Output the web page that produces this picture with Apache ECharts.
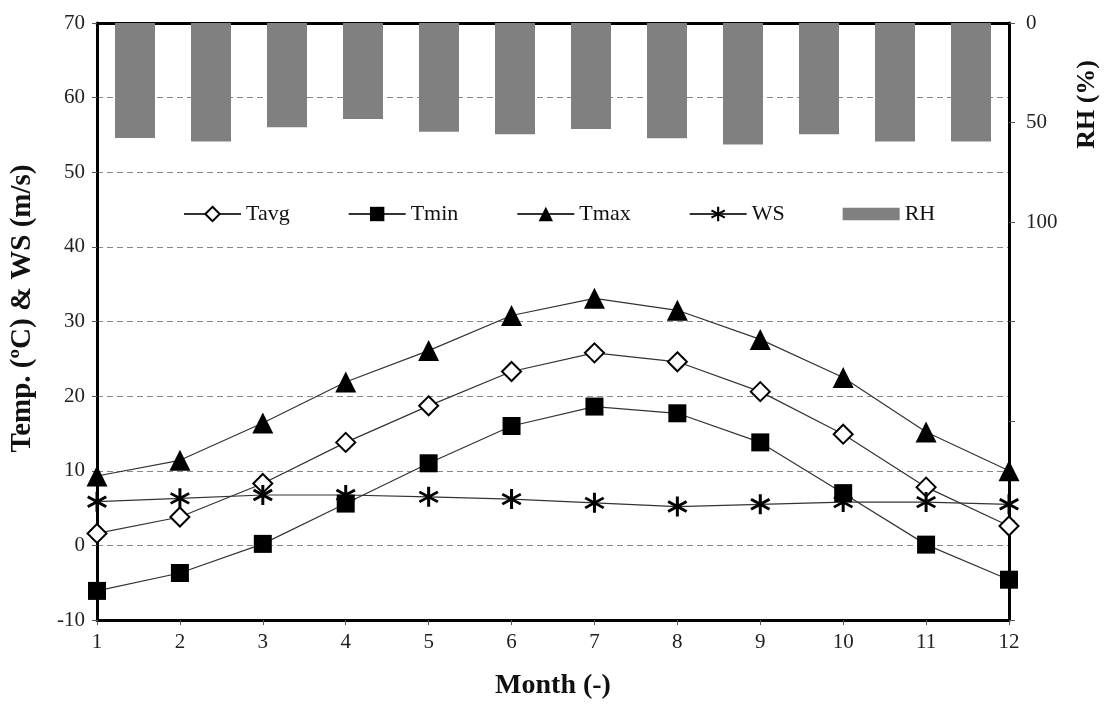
<!DOCTYPE html>
<html>
<head>
<meta charset="utf-8">
<script src="https://cdn.jsdelivr.net/npm/echarts@6/dist/echarts.min.js"></script>
<style>
html,body{margin:0;padding:0;background:#fff;}
#chart{width:1112px;height:711px;}
</style>
</head>
<body>
<div id="chart"></div>
<script>
const months = [1,2,3,4,5,6,7,8,9,10,11,12];
const tavg = [1.6,3.8,8.3,13.8,18.7,23.3,25.8,24.6,20.6,14.9,7.8,2.6];
const tmin = [-6.1,-3.7,0.2,5.6,11.0,16.0,18.6,17.7,13.8,7.0,0.1,-4.6];
const tmax = [9.3,11.4,16.4,21.9,26.1,30.8,33.1,31.5,27.6,22.5,15.2,10.0];
const ws = [5.85,6.3,6.75,6.75,6.5,6.2,5.7,5.2,5.5,5.8,5.8,5.5];
const rh = [57.8,59.6,52.4,48.2,54.6,55.9,53.3,57.9,61.0,55.9,59.6,59.6];
const rhLabels = [0,50,100];

const FONT = '"Liberation Serif", "Times New Roman", serif';
const ASTERISK = 'path://M8.6 0 L11.4 0 L11.4 20 L8.6 20 Z M2.04 3.79 L19.36 13.79 L17.96 16.21 L0.64 6.21 Z M0.64 13.79 L17.96 3.79 L19.36 6.21 L2.04 16.21 Z';

function pairs(arr){ return months.map((m,i)=>[m,arr[i]]); }

const lineBase = {
  type:'line', xAxisIndex:0, yAxisIndex:0,
  lineStyle:{color:'#333', width:1.2},
  emphasis:{disabled:true}, z:5
};

const chart = echarts.init(document.getElementById('chart'), null, {renderer:'canvas'});
chart.setOption({
  animation:false,
  backgroundColor:'#fff',
  grid:{left:93, right:103, top:23, bottom:91, containLabel:false},
  legend:{
    left:178, top:198, itemWidth:57, itemHeight:18, itemGap:58,
    textStyle:{fontFamily:FONT, fontSize:22, color:'#111'},
    data:['Tavg','Tmin','Tmax','WS',{name:'RH', icon:'path://M0 0 L55 0 L55 12 L0 12 Z'}]
  },
  xAxis:[{
    type:'value', min:1, max:12, interval:1, position:'bottom',
    name:'Month (-)', nameLocation:'middle', nameGap:52,
    nameTextStyle:{fontFamily:FONT, fontSize:28, fontWeight:'bold', color:'#111'},
    axisLine:{show:true, onZero:false, lineStyle:{color:'#000', width:3}},
    axisTick:{show:true, length:5, lineStyle:{color:'#555'}},
    axisLabel:{fontFamily:FONT, fontSize:21, color:'#222', margin:12},
    splitLine:{show:false}
  },{
    type:'category', data:months, position:'top', boundaryGap:true,
    axisLine:{show:true, onZero:false, lineStyle:{color:'#000', width:3}},
    axisTick:{show:false}, axisLabel:{show:false}, splitLine:{show:false}
  }],
  yAxis:[{
    type:'value', min:-10, max:70, interval:10, position:'left',
    name:'Temp. (ºC) & WS (m/s)', nameLocation:'middle', nameGap:60,
    nameTextStyle:{fontFamily:FONT, fontSize:29, fontWeight:'bold', color:'#111', padding:[0,0,0,26]},
    axisLine:{show:true, onZero:false, lineStyle:{color:'#000', width:3}},
    axisTick:{show:true, length:5, lineStyle:{color:'#555'}},
    axisLabel:{fontFamily:FONT, fontSize:21, color:'#222', margin:12},
    splitLine:{show:true, lineStyle:{color:'#888', width:1, type:[6,4]}}
  },{
    type:'value', min:0, max:300, interval:50, inverse:true, position:'right',
    axisLine:{show:true, onZero:false, lineStyle:{color:'#000', width:3}},
    axisTick:{show:true, length:6, lineStyle:{color:'#555'}},
    axisLabel:{fontFamily:FONT, fontSize:21, color:'#222', margin:17,
      formatter:function(v){ return rhLabels.indexOf(v) >= 0 ? String(v) : ''; }},
    splitLine:{show:false}
  }],
  graphic:[{
    type:'text', left:1074, top:60, rotation:Math.PI/2,
    style:{text:'RH (%)', fontFamily:FONT, fontSize:26, fontWeight:'bold', fill:'#111'}
  }],
  series:[
    Object.assign({}, lineBase, {name:'Tavg', data:pairs(tavg), symbol:'diamond', symbolSize:19,
      itemStyle:{color:'#fff', borderColor:'#000', borderWidth:2}}),
    Object.assign({}, lineBase, {name:'Tmin', data:pairs(tmin), symbol:'rect', symbolSize:18,
      itemStyle:{color:'#000', borderColor:'#000', borderWidth:0}}),
    Object.assign({}, lineBase, {name:'Tmax', data:pairs(tmax), symbol:'triangle', symbolSize:21,
      itemStyle:{color:'#000', borderColor:'#000', borderWidth:0}}),
    Object.assign({}, lineBase, {name:'WS', data:pairs(ws), symbol:ASTERISK, symbolSize:20,
      itemStyle:{color:'#000', borderWidth:0}}),
    {name:'RH', type:'bar', xAxisIndex:1, yAxisIndex:1, data:rh, barWidth:40,
      itemStyle:{color:'#808080'}, z:2, emphasis:{disabled:true}}
  ]
});
</script>
</body>
</html>
